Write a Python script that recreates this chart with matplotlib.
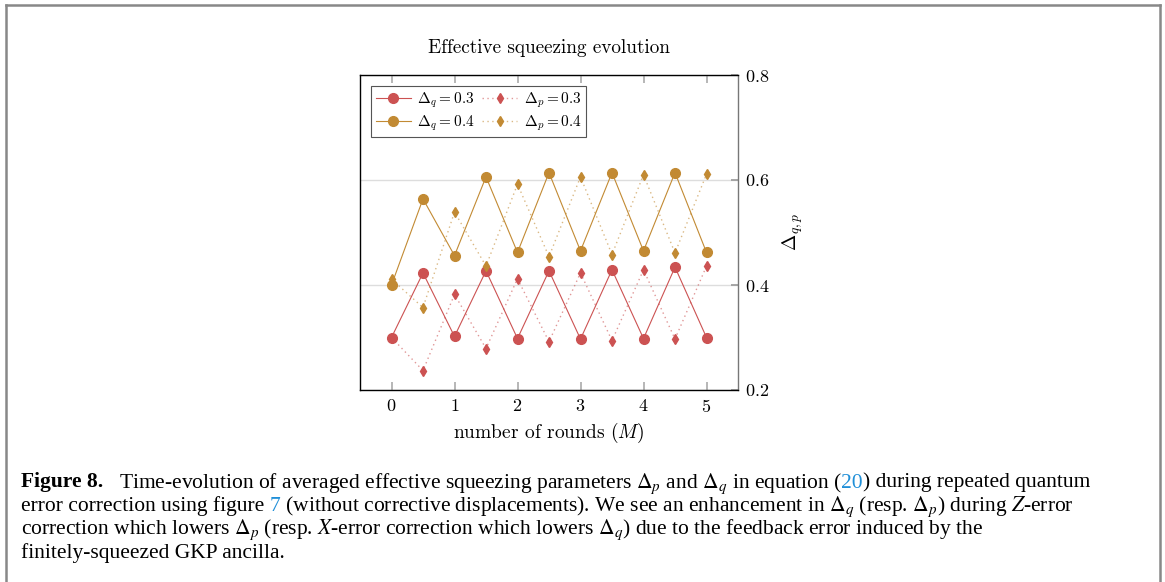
import matplotlib
matplotlib.use("Agg")
import matplotlib.pyplot as plt
from matplotlib.lines import Line2D

# data
rounds = [0, 0.5, 1, 1.5, 2, 2.5, 3, 3.5, 4, 4.5, 5]
dq_03 = [0.300, 0.423, 0.302, 0.427, 0.298, 0.427, 0.297, 0.429, 0.298, 0.434, 0.300]
dp_03 = [0.300, 0.237, 0.382, 0.279, 0.412, 0.292, 0.423, 0.294, 0.429, 0.297, 0.436]
dq_04 = [0.400, 0.564, 0.456, 0.606, 0.462, 0.614, 0.465, 0.614, 0.465, 0.614, 0.462]
dp_04 = [0.411, 0.357, 0.539, 0.436, 0.592, 0.454, 0.606, 0.458, 0.610, 0.461, 0.611]

x_ticks = [0, 1, 2, 3, 4, 5]
y_ticks = [0.2, 0.4, 0.6, 0.8]

red = (0.80, 0.32, 0.32)
orange = (0.76, 0.54, 0.20)

plt.rcParams["mathtext.fontset"] = "cm"
plt.rcParams["font.family"] = "serif"
plt.rcParams["font.serif"] = ["cmr10", "DejaVu Serif"]
plt.rcParams["axes.formatter.use_mathtext"] = True

fig = plt.figure(figsize=(11.65, 5.82), dpi=100)
W, H = 1165, 582

ax = fig.add_axes([360 / W, 1 - 390 / H, 378 / W, 315 / H])

def dotted(c):
    return dict(color=c + (0.6,), ls=(0, (1, 2.5)), lw=1.0, marker="d", ms=5.5,
                markerfacecolor=c, markeredgecolor=c)

def solid(c):
    return dict(color=c, ls="-", lw=0.8, marker="o", ms=7,
                markerfacecolor=c, markeredgecolor=c)

h1, = ax.plot(rounds, dq_03, label=r"$\Delta_q = 0.3$", **solid(red))
h2, = ax.plot(rounds, dq_04, label=r"$\Delta_q = 0.4$", **solid(orange))
h3, = ax.plot(rounds, dp_03, label=r"$\Delta_p = 0.3$", **dotted(red))
h4, = ax.plot(rounds, dp_04, label=r"$\Delta_p = 0.4$", **dotted(orange))

ax.set_xlim(-0.5, 5.5)
ax.set_ylim(0.2, 0.8)
ax.set_xticks(x_ticks)
ax.set_yticks(y_ticks)
ax.yaxis.tick_right()
ax.yaxis.set_label_position("right")
ax.tick_params(axis="x", direction="in", top=True, bottom=True, length=6,
               color="#aaaaaa", width=1.2, labelsize=13, pad=6)
ax.tick_params(axis="y", direction="in", right=True, left=False, length=5,
               color="#999999", width=1.2, labelsize=13, pad=5)
ax.grid(axis="y", color="#dddddd", lw=1.0)
ax.set_axisbelow(True)
for s in ax.spines.values():
    s.set_linewidth(1.0)
ax.spines["right"].set_color("#777777")

ax.set_title("Effective squeezing evolution", fontsize=13.8, pad=16)
ax.set_xlabel(r"number of rounds $(M)$", fontsize=14, labelpad=4)
ax.set_ylabel(r"$\Delta_{q,p}$", fontsize=14, labelpad=8)

leg = ax.legend(handles=[h1, h2, h3, h4], ncol=2, loc="upper left",
                bbox_to_anchor=(0.03, 0.965), borderaxespad=0, fontsize=11,
                fancybox=False, edgecolor="#555555", framealpha=1,
                handlelength=2.3, handletextpad=0.4, columnspacing=0.5,
                labelspacing=0.2, borderpad=0.3)
leg.get_frame().set_linewidth(0.8)

# outer frame of the figure box
fig.add_artist(Line2D([6 / W, 6 / W], [0, 1 - 5 / H], color="#888888", lw=1.8))
fig.add_artist(Line2D([1160 / W, 1160 / W], [0, 1 - 5 / H], color="#888888", lw=1.8))
fig.add_artist(Line2D([6 / W, 1160 / W], [1 - 5 / H, 1 - 5 / H], color="#888888", lw=1.8))

# caption, drawn segment by segment
blue = "#1f8fd8"
cap_size = 15.5
base = dict(fontsize=cap_size, family="Liberation Serif", math_fontfamily="stix")
caption = [
    [("Figure 8.", dict(weight="bold")), ("   Time-evolution of averaged effective squeezing parameters "
      r"$\Delta_p$ and $\Delta_q$ in equation (", {}), ("20", dict(color=blue)),
     (") during repeated quantum", {})],
    [("error correction using figure ", {}), ("7", dict(color=blue)),
     (r" (without corrective displacements). We see an enhancement in $\Delta_q$ (resp. $\Delta_p$) during $Z$-error", {})],
    [(r"correction which lowers $\Delta_p$ (resp. $X$-error correction which lowers $\Delta_q$) due to the feedback error induced by the", {})],
    [("finitely-squeezed GKP ancilla.", {})],
]
baselines = [487.5, 511, 534.5, 558]

fig.canvas.draw()
renderer = fig.canvas.get_renderer()

def seg_width(s, props):
    kw = dict(base, **props)
    t1 = fig.text(0, 0, s + "|", **kw)
    t2 = fig.text(0, 0, "|", **kw)
    w = t1.get_window_extent(renderer).width - t2.get_window_extent(renderer).width
    t1.remove()
    t2.remove()
    return w

for line, yb in zip(caption, baselines):
    x = 21
    for s, props in line:
        kw = dict(base, **props)
        fig.text(x / W, 1 - yb / H, s, va="baseline", ha="left", **kw)
        x += seg_width(s, props)

fig.savefig("out.png", dpi=100)
